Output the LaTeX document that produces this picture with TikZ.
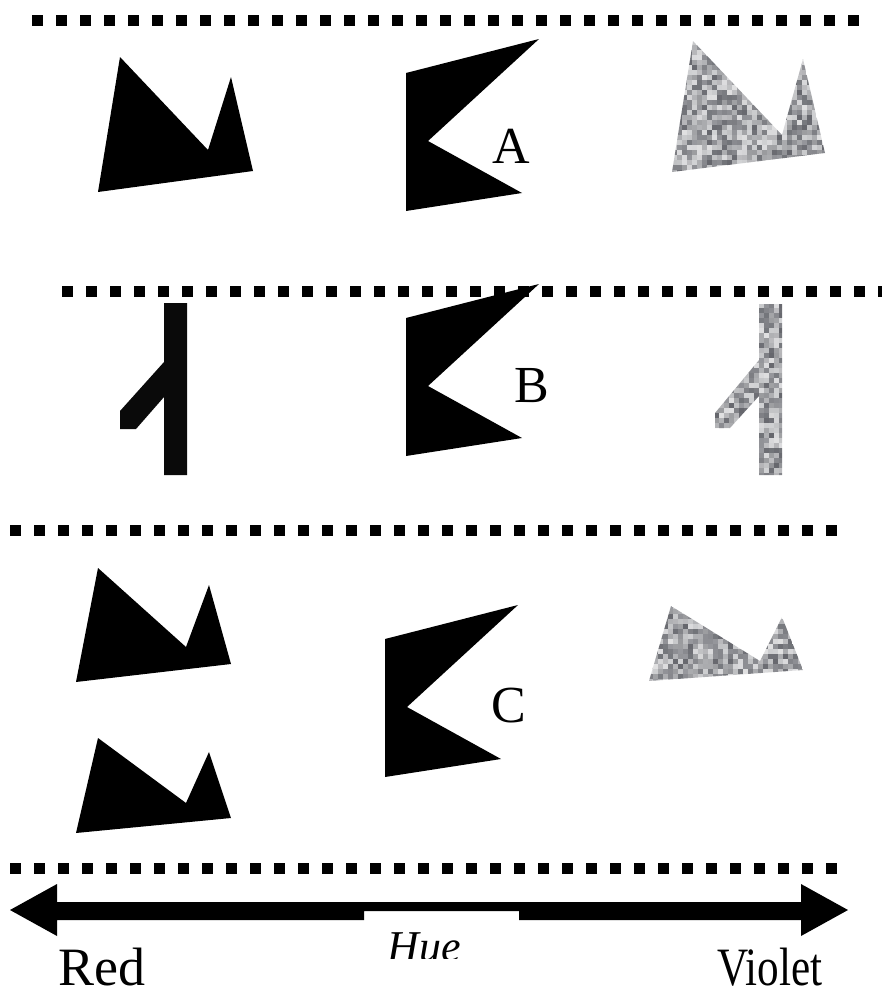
\documentclass[tikz,border=0pt]{standalone}
\usepackage{fontspec}
\setmainfont{Liberation Serif}
\usetikzlibrary{positioning}
\definecolor{speckink}{HTML}{30323A}
\definecolor{barink}{HTML}{0A0A0A}

% grey speckle inside a closed path: path, left, top, width, height
\newcommand{\speckle}[5]{%
  \begin{scope}
    \clip #1;
    \foreach \sx in {0,5,...,#4}{
      \foreach \sy in {0,5,...,#5}{
        \pgfmathsetmacro{\tone}{int(15+60*rnd)}
        \fill[speckink!\tone!white] (#2+\sx,#3+\sy) rectangle ++(5.3,5.3);
      }
    }
  \end{scope}}

\begin{document}
\begin{tikzpicture}[
  x=1pt, y=-1pt,
  dotrule/.style = {line width=11pt, dash pattern=on 11pt off 13pt},
  solid/.style   = {fill=black},
  tag/.style     = {font=\fontsize{52}{52}\selectfont, inner sep=0pt},
  axis/.style    = {font=\fontsize{54}{54}\selectfont, inner sep=0pt, anchor=base},
]
\pgfmathsetseed{7}
\useasboundingbox (0,0) rectangle (882,996);

% --- the four dotted rules ---------------------------------------------------------
\draw[dotrule] (32,20)  -- (866,20);
\draw[dotrule] (62,291) -- (886,291);
\draw[dotrule] (10,530) -- (846,530);
\draw[dotrule] (10,868) -- (842,868);

% --- row A ----------------------------------------------------------------------------
\fill[solid] (120,57) -- (208,150) -- (231,77) -- (253,171) -- (98,192) -- cycle;
\fill[solid] (406,73) -- (539,39) -- (428,141) -- (522,193) -- (406,211) -- cycle;
\speckle{(693,41) -- (782,135) -- (803,59) -- (825,153) -- (672,172) -- cycle}{672}{40}{156}{134}
\node[tag] (tagA) at (511,146) {A};

% --- row B ----------------------------------------------------------------------------
\fill[barink] (164,303) -- (187,303) -- (187,475) -- (164,475) -- (164,397)
              -- (136,429) -- (120,429) -- (120,411) -- (164,362) -- cycle;
\fill[solid] (406,318) -- (539,284) -- (428,386) -- (522,438) -- (406,456) -- cycle;
\speckle{(759,304) -- (782,304) -- (782,475) -- (759,475) -- (759,396)
         -- (730,428) -- (715,428) -- (715,413) -- (759,360) -- cycle}{714}{303}{70}{174}
\node[tag] (tagB) at (532,386) {B};

% --- row C ----------------------------------------------------------------------------
\fill[solid] (98,568) -- (186,647) -- (209,585) -- (231,664) -- (76,682) -- cycle;
\fill[solid] (98,738) -- (186,803) -- (209,752) -- (231,818) -- (76,833) -- cycle;
\fill[solid] (385,639) -- (518,605) -- (407,707) -- (501,759) -- (385,777) -- cycle;
\speckle{(671,606) -- (760,661) -- (782,617) -- (803,670) -- (649,681) -- cycle}{648}{604}{158}{80}
\node[tag] (tagC) at (509,706) {C};

% --- the hue axis ---------------------------------------------------------------------
\fill[solid] (10,910) -- (57,884) -- (57,902) -- (801,902) -- (801,884) -- (848,910)
             -- (801,936) -- (801,920) -- (519,920) -- (519,911) -- (364,911)
             -- (364,920) -- (57,920) -- (57,936) -- cycle;
\begin{scope}
  \clip (0,0) rectangle (882,958);
  \node[axis, font=\fontsize{44}{44}\selectfont\itshape] (hue) at (424,961) {Hue};
\end{scope}
\node[axis] (red)    at (102,985) {Red};
\node[axis] (violet) at (770,985) {\scalebox{0.8}[1]{Violet}};

\end{tikzpicture}
\end{document}
